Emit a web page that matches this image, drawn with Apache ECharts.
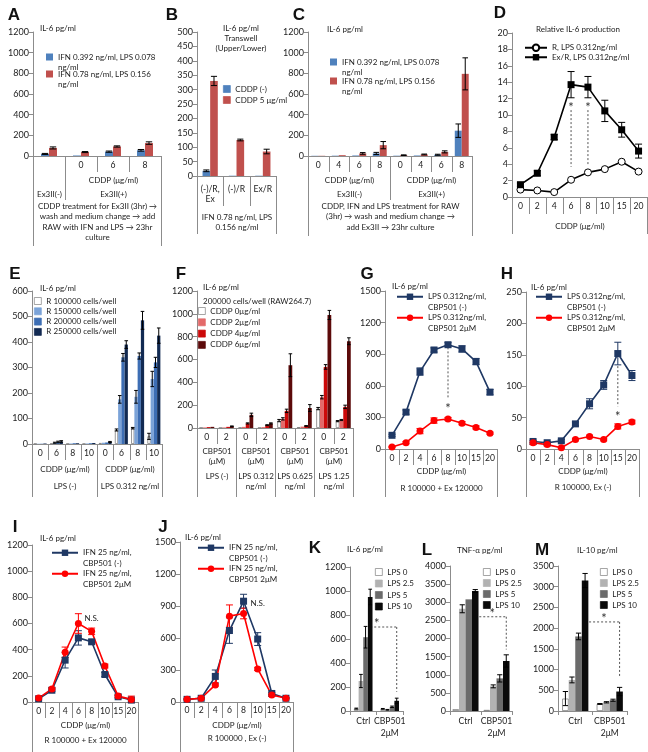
<!DOCTYPE html>
<html>
<head>
<meta charset="utf-8">
<script src="https://cdn.jsdelivr.net/npm/echarts@6/dist/echarts.min.js"></script>
<style>
html,body{margin:0;padding:0;background:#fff;}
#chart{width:648px;height:752px;}
</style>
</head>
<body>
<div id="chart"></div>
<script>
// ================= DATA =================
// Panel A
const A_cats = ['', '0', '6', '8'];
const A_names = ['IFN 0.392 ng/ml, LPS 0.078\nng/ml', 'IFN 0.78 ng/ml, LPS 0.156\nng/ml'];
const A_blue = [20, 5, 42, 55];
const A_blueErr = [5, 2, 6, 8];
const A_red = [78, 38, 92, 125];
const A_redErr = [10, 5, 6, 12];
// Panel B
const B_cats = ['(-)/R,\nEx', '(-)/R', 'Ex/R'];
const B_names = ['CDDP (-)', 'CDDP 5 μg/ml'];
const B_c0 = [18, 1, 1];
const B_c0Err = [3, 0, 0];
const B_c5 = [330, 125, 85];
const B_c5Err = [16, 3, 8];
// Panel C
const C_cats = ['0', '4', '6', '8', '0', '4', '6', '8'];
const C_blue = [2, 3, 5, 25, 3, 5, 12, 245];
const C_blueErr = [1, 1, 2, 10, 1, 2, 5, 65];
const C_red = [2, 8, 25, 105, 8, 15, 40, 795];
const C_redErr = [1, 2, 8, 35, 3, 4, 10, 155];
// Panel D
const CDDP_cats = ['0', '2', '4', '6', '8', '10', '15', '20'];
const D_names = ['R, LPS 0.312ng/ml', 'Ex/R, LPS 0.312ng/ml'];
const D_R = [0.9, 0.8, 0.6, 2.1, 3.0, 3.4, 4.3, 3.1];
const D_ExR = [1.5, 2.9, 7.3, 13.7, 13.4, 10.5, 8.2, 5.6];
const D_ExRErr = [0.2, 0.3, 0.3, 1.6, 1.3, 1.3, 0.9, 0.85];
const D_sig = [[3, 10.6, 3.7, 11.2], [4, 10.6, 3.9, 11.2]];
// Panel E
const E_cats = ['0', '6', '8', '10', '0', '6', '8', '10'];
const E_names = ['R 100000 cells/well', 'R 150000 cells/well', 'R 200000 cells/well', 'R 250000 cells/well'];
const E_r100 = [1, 2, 1, 1, 4, 55, 62, 30];
const E_r100Err = [0, 1, 0, 0, 1, 4, 3, 12];
const E_r150 = [1, 5, 2, 2, 5, 175, 185, 255];
const E_r150Err = [0, 2, 1, 1, 1, 15, 25, 30];
const E_r200 = [1, 8, 3, 3, 6, 340, 345, 320];
const E_r200Err = [0, 3, 1, 1, 1, 15, 12, 20];
const E_r250 = [2, 10, 3, 4, 8, 390, 485, 425];
const E_r250Err = [1, 3, 1, 1, 2, 15, 35, 30];
// Panel F
const F_cats = ['0', '2', '0', '2', '0', '2', '0', '2'];
const F_names = ['CDDP 0μg/ml', 'CDDP 2μg/ml', 'CDDP 4μg/ml', 'CDDP 6μg/ml'];
const F_c0 = [3, 2, 5, 3, 65, 8, 170, 60];
const F_c0Err = [1, 1, 1, 1, 10, 2, 10, 5];
const F_c2 = [5, 5, 10, 8, 80, 12, 270, 70];
const F_c2Err = [1, 1, 2, 2, 10, 2, 15, 5];
const F_c4 = [8, 10, 40, 25, 150, 18, 535, 185];
const F_c4Err = [2, 2, 5, 4, 15, 3, 20, 15];
const F_c6 = [10, 15, 115, 40, 550, 175, 990, 760];
const F_c6Err = [2, 3, 15, 5, 100, 30, 40, 30];
// Panel G
const G_names = ['LPS 0.312ng/ml,\nCBP501 (-)', 'LPS 0.312ng/ml,\nCBP501 2μM'];
const G_ctrl = [130, 350, 735, 940, 990, 950, 830, 540];
const G_ctrlErr = [10, 20, 35, 20, 20, 30, 30, 25];
const G_cbp = [20, 60, 170, 270, 285, 245, 205, 150];
const G_cbpErr = [5, 10, 25, 25, 15, 15, 15, 10];
const G_sig = [[4, 965, 490, 410]];
// Panel H
const H_ctrl = [12, 10, 13, 40, 72, 102, 152, 117];
const H_ctrlErr = [2, 2, 2, 3, 8, 7, 18, 8];
const H_cbp = [10, 7, 2, 15, 20, 15, 36, 43];
const H_cbpErr = [3, 2, 1, 2, 2, 2, 4, 3];
const H_sig = [[6, 132, 68, 56]];
// Panel I
const IJ_names = ['IFN 25 ng/ml,\nCBP501 (-)', 'IFN 25 ng/ml,\nCBP501 2μM'];
const I_ctrl = [25, 90, 320, 490, 460, 210, 40, 15];
const I_ctrlErr = [5, 10, 60, 55, 15, 15, 10, 5];
const I_cbp = [30, 100, 380, 600, 540, 275, 45, 20];
const I_cbpErr = [5, 10, 40, 75, 25, 15, 10, 25];
const I_ns = [[4.45, 640]];
// Panel J
const J_ctrl = [25, 35, 240, 670, 945, 590, 80, 35];
const J_ctrlErr = [5, 5, 60, 120, 65, 60, 10, 5];
const J_cbp = [25, 35, 160, 805, 830, 310, 65, 35];
const J_cbpErr = [5, 5, 10, 105, 50, 15, 10, 5];
const J_ns = [[4.85, 928]];
// Panels K, L, M
const KLM_cats = ['Ctrl', 'CBP501\n2μM'];
const KLM_names = ['LPS 0', 'LPS 2.5', 'LPS 5', 'LPS 10'];
const K_lps0 = [20, 18], K_lps0Err = [4, 3];
const K_lps25 = [250, 10], K_lps25Err = [55, 3];
const K_lps5 = [615, 35], K_lps5Err = [90, 6];
const K_lps10 = [950, 85], K_lps10Err = [65, 22];
const K_bracket = [700, 160, 0.25];
const L_lps0 = [50, 30], L_lps0Err = [8, 5];
const L_lps25 = [2820, 680], L_lps25Err = [110, 40];
const L_lps5 = [3080, 900], L_lps5Err = [0, 100];
const L_lps10 = [3310, 1380], L_lps10Err = [40, 170];
const L_bracket = [2600, 1700, 0.55];
const M_lps0 = [300, 170], M_lps0Err = [170, 10];
const M_lps25 = [750, 210], M_lps25Err = [70, 15];
const M_lps5 = [1800, 260], M_lps5Err = [80, 25];
const M_lps10 = [3150, 470], M_lps10Err = [170, 100];
const M_bracket = [2150, 800, 0.55];

// ================= STYLE / LAYOUT =================
const FONT = 'Lato, "Liberation Sans", sans-serif';
const TXT = '#222';
const AX = '#8c8c8c';
const BLUE = '#4f81bd', RED = '#c0504d';
const NAVY = '#1f3864', BRIGHT = '#ff0000';
const E_COL = ['#ffffff', '#7ba3d8', '#3d6eb4', '#122a52'];
const F_COL = ['#ffffff', '#e36a6a', '#cc0a0a', '#5c0a0a'];
const KLM_COL = ['#ffffff', '#b2b2b2', '#6b6b6b', '#0a0a0a'];

// [left, top, width, height]
const GRID = [
  [33, 32, 128, 124],   // A
  [197, 32, 79, 144],   // B
  [308, 32, 164, 124],  // C
  [512, 33, 135, 164],  // D
  [32, 291, 130, 153],  // E
  [197, 291, 156, 137], // F
  [385, 291, 112, 158], // G
  [526, 292, 113, 157], // H
  [32, 545, 106, 157],  // I
  [180, 542, 113, 160], // J
  [350, 567, 53, 144],  // K
  [450, 566, 62, 145],  // L
  [558, 566, 69, 145]   // M
];
const Y_SCALE = [[1200, 200], [500, 50], [1200, 200], [20, 2], [600, 100], [1200, 200], [1500, 300], [250, 50], [1200, 200], [1500, 300], [1200, 200], [4000, 500], [3500, 500]];
const CATS = [A_cats, B_cats, C_cats, CDDP_cats, E_cats, F_cats, CDDP_cats, CDDP_cats, CDDP_cats, CDDP_cats, KLM_cats, KLM_cats, KLM_cats];
const LABEL_MARGIN = [4, 8, 4, 4, 4, 4, 4, 4, 4, 3, 4, 4, 4];

const xAxes = GRID.map((g, i) => ({
  type: 'category', gridIndex: i, data: CATS[i],
  axisLine: {show: true, lineStyle: {color: AX, width: 1}},
  axisTick: {show: i >= 10, length: 4, lineStyle: {color: AX}},
  axisLabel: {interval: 0, fontSize: 8.6, fontFamily: FONT, color: TXT, margin: LABEL_MARGIN[i], lineHeight: i >= 10 ? 12 : 10},
  splitLine: {show: false}
}));
const yAxes = GRID.map((g, i) => ({
  type: 'value', gridIndex: i, min: 0, max: Y_SCALE[i][0], interval: Y_SCALE[i][1],
  axisLine: {show: true, lineStyle: {color: AX}},
  axisTick: {show: true, length: 4, lineStyle: {color: AX}},
  splitLine: {show: false},
  axisLabel: {fontSize: 9, fontFamily: FONT, color: TXT, margin: 4, formatter: v => String(v)}
}));

function bar(name, gi, vals, color, gap, border) {
  return {
    type: 'bar', name, xAxisIndex: gi, yAxisIndex: gi, data: vals,
    barCategoryGap: gap, barGap: '0%', z: 2,
    itemStyle: {color, borderColor: border || color, borderWidth: border ? 0.8 : 0}
  };
}
function line(name, gi, vals, color, symbol, size, fill) {
  return {
    type: 'line', name, xAxisIndex: gi, yAxisIndex: gi, data: vals, z: 4,
    symbol, symbolSize: size, showSymbol: true,
    lineStyle: {color, width: 1.6},
    itemStyle: {color: fill || color, borderColor: color, borderWidth: fill ? 1 : 0}
  };
}
function errBars(gi, vals, e, k, n, gap, color, capHalf) {
  return {
    type: 'custom', xAxisIndex: gi, yAxisIndex: gi, z: 3, silent: true,
    data: vals.map((v, i) => [i, v - e[i], v + e[i]]),
    renderItem: (p, api) => {
      const i = api.value(0);
      const c = api.coord([i, 0]);
      const band = api.size([1, 0])[0];
      let cx = c[0], bw = 8;
      if (n) { const gw = band * (1 - gap); bw = gw / n; cx = c[0] - gw / 2 + bw * (k + 0.5); }
      const lo = api.coord([i, api.value(1)])[1], hi = api.coord([i, api.value(2)])[1];
      if (Math.abs(lo - hi) < 0.6) return null;
      const h = capHalf || Math.max(1.8, bw * 0.4);
      const st = {stroke: color, lineWidth: 1};
      return {type: 'group', children: [
        {type: 'line', shape: {x1: cx, y1: lo, x2: cx, y2: hi}, style: st},
        {type: 'line', shape: {x1: cx - h, y1: hi, x2: cx + h, y2: hi}, style: st},
        {type: 'line', shape: {x1: cx - h, y1: lo, x2: cx + h, y2: lo}, style: st}
      ]};
    }
  };
}
function sigMarks(gi, data) {
  return {
    type: 'custom', xAxisIndex: gi, yAxisIndex: gi, z: 1, silent: true, data,
    renderItem: (p, api) => {
      const i = api.value(0);
      const t = api.coord([i, api.value(1)]), b = api.coord([i, api.value(2)]), s = api.coord([i, api.value(3)]);
      return {type: 'group', children: [
        {type: 'line', shape: {x1: t[0], y1: t[1], x2: b[0], y2: b[1]}, style: {stroke: '#555', lineWidth: 1, lineDash: [2, 2]}},
        {type: 'text', x: s[0], y: s[1] + 3, style: {text: '*', fontSize: 13, fontFamily: FONT, fill: '#333', align: 'center', verticalAlign: 'middle'}}
      ]};
    }
  };
}
function bracket(gi, k, n, gap, spec) {
  return {
    type: 'custom', xAxisIndex: gi, yAxisIndex: gi, z: 1, silent: true,
    data: [[0, spec[0], spec[1], spec[2]]],
    renderItem: (p, api) => {
      const band = api.size([1, 0])[0];
      const gw = band * (1 - gap), bw = gw / n;
      const off = -gw / 2 + bw * (k + 0.5);
      const a = api.coord([0, api.value(1)]), b = api.coord([1, api.value(1)]);
      const x1 = a[0] + off, x2 = b[0] + off, yl = a[1];
      const ye = api.coord([1, api.value(2)])[1];
      const sx = x1 + (x2 - x1) * api.value(3);
      const ds = {stroke: '#555', lineWidth: 1, lineDash: [2, 2]};
      return {type: 'group', children: [
        {type: 'line', shape: {x1, y1: yl, x2, y2: yl}, style: ds},
        {type: 'line', shape: {x1: x2, y1: yl, x2, y2: ye}, style: ds},
        {type: 'text', x: sx, y: yl - 3, style: {text: '*', fontSize: 13, fontFamily: FONT, fill: '#333', align: 'center', verticalAlign: 'middle'}}
      ]};
    }
  };
}
function textMark(gi, data, text) {
  return {
    type: 'custom', xAxisIndex: gi, yAxisIndex: gi, z: 5, silent: true, data,
    renderItem: (p, api) => {
      const c = api.coord([api.value(0), api.value(1)]);
      return {type: 'text', x: c[0], y: c[1], style: {text, fontSize: 8, fontFamily: FONT, fill: TXT, align: 'center', verticalAlign: 'middle'}};
    }
  };
}
function legBox(names, left, top, extra) {
  return Object.assign({
    data: names, left, top, orient: 'vertical', padding: 0, itemGap: 1,
    itemWidth: 7, itemHeight: 7, icon: 'rect', selectedMode: false,
    itemStyle: {borderWidth: 0.7},
    textStyle: {fontSize: 8, fontFamily: FONT, color: TXT, lineHeight: 10}
  }, extra || {});
}
function legTwo(name, left, top, isLine) {
  const o = {
    data: [name], left, top, orient: 'vertical', padding: 0, selectedMode: false,
    itemWidth: isLine ? 26 : 7, itemHeight: isLine ? 8 : 7,
    formatter: n => ' \n' + n,
    textStyle: {fontSize: 8, fontFamily: FONT, color: TXT, lineHeight: isLine ? 10.5 : 10}
  };
  if (!isLine) { o.icon = 'rect'; o.itemStyle = {borderWidth: 0}; }
  return o;
}
function legLines(names, left, top, lh, w) {
  return {
    data: names, left, top, orient: 'vertical', padding: 0, selectedMode: false, itemGap: 0,
    itemWidth: w, itemHeight: 8,
    textStyle: {fontSize: 8, fontFamily: FONT, color: TXT, lineHeight: lh}
  };
}

const series = [];
function barGroup(gi, names, valsArr, errArr, colors, gap, whiteFirst, errColor) {
  const g = parseFloat(gap) / 100;
  valsArr.forEach((v, k) => {
    series.push(bar(names[k], gi, v, colors[k], gap, (whiteFirst && k === 0) ? '#7f7f7f' : null));
  });
  valsArr.forEach((v, k) => series.push(errBars(gi, v, errArr[k], k, valsArr.length, g, errColor || '#000')));
}
// A
barGroup(0, A_names, [A_blue, A_red], [A_blueErr, A_redErr], [BLUE, RED], '50%');
// B
barGroup(1, B_names, [B_c0, B_c5], [B_c0Err, B_c5Err], [BLUE, RED], '42%');
// C
barGroup(2, A_names, [C_blue, C_red], [C_blueErr, C_redErr], [BLUE, RED], '32%');
// D
series.push(line(D_names[0], 3, D_R, '#000', 'circle', 7, '#fff'));
series.push(line(D_names[1], 3, D_ExR, '#000', 'rect', 7));
series.push(errBars(3, D_ExR, D_ExRErr, 0, 0, 0, '#000', 3.5));
series.push(sigMarks(3, D_sig));
// E
barGroup(4, E_names, [E_r100, E_r150, E_r200, E_r250], [E_r100Err, E_r150Err, E_r200Err, E_r250Err], E_COL, '20%', true);
// F
barGroup(5, F_names, [F_c0, F_c2, F_c4, F_c6], [F_c0Err, F_c2Err, F_c4Err, F_c6Err], F_COL, '23%', true);
// G
series.push(line(G_names[0], 6, G_ctrl, NAVY, 'rect', 7));
series.push(line(G_names[1], 6, G_cbp, BRIGHT, 'circle', 7));
series.push(errBars(6, G_ctrl, G_ctrlErr, 0, 0, 0, NAVY, 3.5));
series.push(errBars(6, G_cbp, G_cbpErr, 0, 0, 0, BRIGHT, 3.5));
series.push(sigMarks(6, G_sig));
// H
series.push(line(G_names[0], 7, H_ctrl, NAVY, 'rect', 7));
series.push(line(G_names[1], 7, H_cbp, BRIGHT, 'circle', 7));
series.push(errBars(7, H_ctrl, H_ctrlErr, 0, 0, 0, NAVY, 3.5));
series.push(errBars(7, H_cbp, H_cbpErr, 0, 0, 0, BRIGHT, 3.5));
series.push(sigMarks(7, H_sig));
// I
series.push(line(IJ_names[0], 8, I_ctrl, NAVY, 'rect', 7));
series.push(line(IJ_names[1], 8, I_cbp, BRIGHT, 'circle', 7));
series.push(errBars(8, I_ctrl, I_ctrlErr, 0, 0, 0, NAVY, 3.5));
series.push(errBars(8, I_cbp, I_cbpErr, 0, 0, 0, BRIGHT, 3.5));
series.push(textMark(8, I_ns, 'N.S.'));
// J
series.push(line(IJ_names[0], 9, J_ctrl, NAVY, 'rect', 7));
series.push(line(IJ_names[1], 9, J_cbp, BRIGHT, 'circle', 7));
series.push(errBars(9, J_ctrl, J_ctrlErr, 0, 0, 0, NAVY, 3.5));
series.push(errBars(9, J_cbp, J_cbpErr, 0, 0, 0, BRIGHT, 3.5));
series.push(textMark(9, J_ns, 'N.S.'));
// K, L, M
barGroup(10, KLM_names, [K_lps0, K_lps25, K_lps5, K_lps10], [K_lps0Err, K_lps25Err, K_lps5Err, K_lps10Err], KLM_COL, '30%', true);
series.push(bracket(10, 3, 4, 0.30, K_bracket));
barGroup(11, KLM_names, [L_lps0, L_lps25, L_lps5, L_lps10], [L_lps0Err, L_lps25Err, L_lps5Err, L_lps10Err], KLM_COL, '16%', true);
series.push(bracket(11, 3, 4, 0.16, L_bracket));
barGroup(12, KLM_names, [M_lps0, M_lps25, M_lps5, M_lps10], [M_lps0Err, M_lps25Err, M_lps5Err, M_lps10Err], KLM_COL, '24%', true);
series.push(bracket(12, 3, 4, 0.24, M_bracket));

const legends = [
  legTwo(A_names[0], 46, 42), legTwo(A_names[1], 46, 59),
  legBox(B_names, 223, 84),
  legTwo(A_names[0], 330, 47), legTwo(A_names[1], 330, 66),
  legLines(D_names, 524, 43, 9.5, 22),
  legBox(E_names, 34, 296, {itemGap: 0.3}),
  legBox(F_names, 198, 306, {itemGap: 1.3}),
  legTwo(G_names[0], 396, 281, true), legTwo(G_names[1], 396, 302, true),
  legTwo(G_names[0], 535, 281, true), legTwo(G_names[1], 535, 302, true),
  legTwo(IJ_names[0], 51, 537, true), legTwo(IJ_names[1], 51, 558, true),
  legTwo(IJ_names[0], 197, 532, true), legTwo(IJ_names[1], 197, 553, true),
  legBox(KLM_names, 375, 567, {itemGap: 1.5}),
  legBox(KLM_names, 483, 567, {itemGap: 1}),
  legBox(KLM_names, 600, 567, {itemGap: 1})
];

const chart = echarts.init(document.getElementById('chart'), null, {renderer: 'canvas', width: 648, height: 752});
chart.setOption({
  animation: false,
  backgroundColor: '#ffffff',
  textStyle: {fontFamily: FONT},
  grid: GRID.map(g => ({left: g[0], top: g[1], width: g[2], height: g[3], containLabel: false})),
  xAxis: xAxes,
  yAxis: yAxes,
  legend: legends,
  series
});

// ---------- text annotations & category tables ----------
const LETTERS = [['A', 14, 15], ['B', 172, 15], ['C', 299, 15], ['D', 500, 13], ['E', 15, 274], ['F', 181, 274], ['G', 367, 274], ['H', 507, 274], ['I', 15, 527], ['J', 163, 527], ['K', 315, 548], ['L', 427, 550], ['M', 542, 550]];
const UNIT_TITLES = [
  ['IL-6 pg/ml', 40, 28, 'left'],
  ['IL-6 pg/ml\nTranswell\n(Upper/Lower)', 241, 28, 'center'],
  ['IL-6 pg/ml', 327, 29, 'left'],
  ['Relative IL-6 production', 578, 29, 'center'],
  ['IL-6 pg/ml', 40, 288, 'left'],
  ['IL-6 pg/ml', 203, 287, 'left'],
  ['200000 cells/well (RAW264.7)', 203, 301, 'left'],
  ['IL-6 pg/ml', 392, 286, 'left'],
  ['IL-6 pg/ml', 531, 287, 'left'],
  ['IL-6 pg/ml', 40, 538, 'left'],
  ['IL-6 pg/ml', 185, 537, 'left'],
  ['IL-6 pg/ml', 347, 549, 'left'],
  ['TNF-α pg/ml', 457, 550, 'left'],
  ['IL-10 pg/ml', 577, 550, 'left']
];
const CAP_A = 'CDDP treatment for Ex3II (3hr) →\nwash and medium change → add\nRAW with IFN and LPS → 23hr\nculture';
const CAP_B = 'IFN 0.78 ng/ml, LPS\n0.156 ng/ml';
const CAP_C = 'CDDP, IFN and LPS treatment for RAW\n(3hr) → wash and medium change →\nadd Ex3II → 23hr culture';
const ev = (ks, len) => ks.map(k => [k, len]);
const TABLES = [
  {g: 0, texts: [[1, 3, 24, 'CDDP (μg/ml)'], [0, 0, 38, 'Ex3II(-)'], [1, 3, 38, 'Ex3II(+)'], [0, 3, 45, CAP_A, 1]],
   lines: [[0, 90], [1, 44], [2, 16], [3, 16], [4, 90]]},
  {g: 1, texts: [[0, 2, 36, CAP_B, 1]], lines: [[0, 58], [1, 30], [2, 30], [3, 58]]},
  {g: 2, texts: [[0, 3, 24, 'CDDP (μg/ml)'], [4, 7, 24, 'CDDP (μg/ml)'], [0, 3, 38, 'Ex3II(-)'], [4, 7, 38, 'Ex3II(+)'], [0, 7, 45, CAP_C, 1]],
   lines: [[0, 80], ...ev([1, 2, 3, 5, 6, 7], 16), [4, 44], [8, 80]]},
  {g: 3, texts: [[0, 7, 29, 'CDDP (μg/ml)']], lines: [[0, 37], ...ev([1, 2, 3, 4, 5, 6, 7], 17), [8, 37]]},
  {g: 4, texts: [[0, 3, 25, 'CDDP (μg/ml)'], [4, 7, 25, 'CDDP (μg/ml)'], [0, 3, 42, 'LPS (-)'], [4, 7, 42, 'LPS 0.312 ng/ml']],
   lines: [[0, 53], ...ev([1, 2, 3, 5, 6, 7], 16), [4, 53], [8, 53]]},
  {g: 5, texts: [[0, 1, 18, 'CBP501\n(μM)', 1], [2, 3, 18, 'CBP501\n(μM)', 1], [4, 5, 18, 'CBP501\n(μM)', 1], [6, 7, 18, 'CBP501\n(μM)', 1],
                 [0, 1, 43, 'LPS (-)', 1], [2, 3, 43, 'LPS 0.312\nng/ml', 1], [4, 5, 43, 'LPS 0.625\nng/ml', 1], [6, 7, 43, 'LPS 1.25\nng/ml', 1]],
   lines: [...ev([0, 2, 4, 6, 8], 69), ...ev([1, 3, 5, 7], 16)]},
  {g: 6, texts: [[0, 7, 22, 'CDDP (μg/ml)'], [0, 7, 39, 'R 100000 + Ex 120000']], lines: [[0, 48], ...ev([1, 2, 3, 4, 5, 6, 7], 16), [8, 48]]},
  {g: 7, texts: [[0, 7, 22, 'CDDP (μg/ml)'], [0, 7, 38, 'R 100000, Ex (-)']], lines: [[0, 48], ...ev([1, 2, 3, 4, 5, 6, 7], 16), [8, 48]]},
  {g: 8, texts: [[0, 7, 23, 'CDDP (μg/ml)'], [0, 7, 38, 'R 100000 + Ex 120000']], lines: [[0, 50], ...ev([1, 2, 3, 4, 5, 6, 7], 16), [8, 50]]},
  {g: 9, texts: [[0, 7, 23, 'CDDP (μg/ml)'], [0, 7, 36, 'R 100000 , Ex (-)']], lines: [[0, 50], ...ev([1, 2, 3, 4, 5, 6, 7], 16), [8, 50]]}
];

const els = [];
LETTERS.forEach(([t, x, y]) => els.push({type: 'text', x, y, silent: true,
  style: {text: t, fontSize: 17, fontWeight: 'bold', fontFamily: '"Liberation Sans", Arial, sans-serif', fill: '#111', align: 'center', verticalAlign: 'middle'}}));
UNIT_TITLES.forEach(([t, x, y, al]) => els.push({type: 'text', x, y: y - 5, silent: true,
  style: {text: t, fontSize: 8, fontFamily: FONT, fill: TXT, align: al, verticalAlign: 'top', lineHeight: 10}}));
TABLES.forEach(t => {
  const c0 = chart.convertToPixel({xAxisIndex: t.g}, 0);
  const c1 = chart.convertToPixel({xAxisIndex: t.g}, 1);
  const band = c1 - c0;
  const y0 = chart.convertToPixel({yAxisIndex: t.g}, 0);
  const edge = k => Math.round(c0 - band / 2 + k * band) + 0.5;
  t.lines.forEach(([k, len]) => els.push({type: 'line', silent: true,
    shape: {x1: edge(k), y1: y0, x2: edge(k), y2: y0 + len}, style: {stroke: AX, lineWidth: 1}}));
  t.texts.forEach(([a, b, dy, txt, top]) => els.push({type: 'text', silent: true,
    x: (edge(a) + edge(b + 1)) / 2, y: y0 + dy,
    style: {text: txt, fontSize: 8, fontFamily: FONT, fill: TXT, align: 'center', verticalAlign: top ? 'top' : 'middle', lineHeight: 10.4}}));
});
chart.setOption({graphic: {elements: els}});
</script>
</body>
</html>
